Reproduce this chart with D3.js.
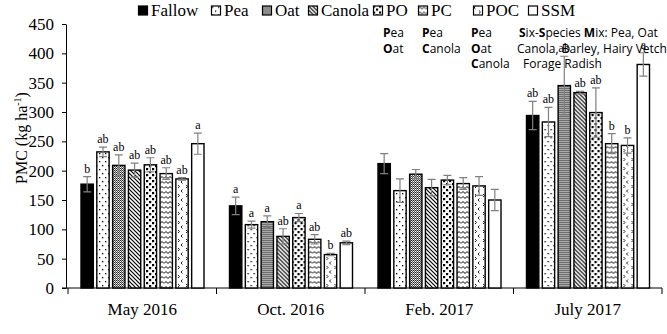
<!DOCTYPE html>
<html>
<head>
<meta charset="utf-8">
<script src="https://cdn.jsdelivr.net/npm/d3@7.9.0/dist/d3.min.js"></script>
<style>
  body { margin: 0; background: #fff; }
  svg { display: block; }
  .tick text { font-family: "Liberation Serif", "Times New Roman", serif; }
</style>
</head>
<body>
<svg id="chart" width="667" height="334"></svg>
<script>
// data
const periods = ['May 2016', 'Oct. 2016', 'Feb. 2017', 'July 2017'];
const treatments = ['Fallow', 'Pea', 'Oat', 'Canola', 'PO', 'PC', 'POC', 'SSM'];

const pmc = [
  [177, 232, 209, 201, 210, 195, 186, 246],
  [140, 108, 113, 88, 120, 83, 57, 77],
  [212, 166, 194, 171, 184, 178, 174, 150],
  [294, 283, 345, 333, 299, 246, 243, 381],
];
const pmcErr = [
  [13, 8, 18, 12, 12, 10, 2, 18],
  [15, 6, 10, 13, 7, 8, 2, 3],
  [17, 20, 8, 14, 8, 10, 16, 18],
  [24, 25, 50, 2, 42, 17, 13, 20],
];
const letters = [
  ['b', 'ab', 'ab', 'ab', 'ab', 'ab', 'ab', 'a'],
  ['a', 'a', 'a', 'ab', 'a', 'ab', 'b', 'ab'],
  ['', '', '', '', '', '', '', ''],
  ['ab', 'ab', 'ab', 'ab', 'ab', 'b', 'b', 'a'],
];
const yTicks = [0, 50, 100, 150, 200, 250, 300, 350, 400, 450];

const svg = d3.select('#chart');
const serif = '"Liberation Serif", "Times New Roman", serif';
const sans = '"Open Sans", "Liberation Sans", sans-serif';

// ── 填充图案 ──────────────────────────────────────────────
const defs = svg.append('defs');

function pat(id, w, h, draw) {
  const p = defs.append('pattern')
    .attr('id', id).attr('patternUnits', 'userSpaceOnUse')
    .attr('width', w).attr('height', h);
  p.append('rect').attr('width', w).attr('height', h).attr('fill', '#fff');
  draw(p);
}

// Pea: sparse dots
pat('p-pea', 6, 8, (p) => {
  p.append('rect').attr('x', 1).attr('y', 1).attr('width', 1.3).attr('height', 1.3).attr('fill', '#000');
  p.append('rect').attr('x', 4).attr('y', 5).attr('width', 1.3).attr('height', 1.3).attr('fill', '#000');
});
// Oat: fine grey checker
pat('p-oat', 2, 2, (p) => {
  p.append('rect').attr('width', 1).attr('height', 1).attr('fill', '#222');
  p.append('rect').attr('x', 1).attr('y', 1).attr('width', 1).attr('height', 1).attr('fill', '#555');
  p.append('rect').attr('x', 1).attr('y', 0).attr('width', 1).attr('height', 1).attr('fill', '#bbb');
});
// Canola: diagonal lines
pat('p-canola', 4, 4, (p) => {
  p.append('path').attr('d', 'M-1,-1L5,5M-1,3L1,5M3,-1L5,1')
    .attr('stroke', '#000').attr('stroke-width', 1.2);
});
// PO: confetti
pat('p-po', 6, 6, (p) => {
  p.append('rect').attr('x', 0).attr('y', 0).attr('width', 2.2).attr('height', 2.2).attr('fill', '#000');
  p.append('rect').attr('x', 3).attr('y', 3).attr('width', 2.2).attr('height', 2.2).attr('fill', '#000');
});
// PC: zigzag
pat('p-pc', 8, 5, (p) => {
  p.append('path').attr('d', 'M0,3.5L2,1.5L4,3.5L6,1.5L8,3.5')
    .attr('fill', 'none').attr('stroke', '#000').attr('stroke-width', 1);
});
// POC: small chevrons
pat('p-poc', 8, 9, (p) => {
  p.append('path').attr('d', 'M2.5,0.5L1,2L2.5,3.5M6,5L7.5,6.5L6,8')
    .attr('fill', 'none').attr('stroke', '#000').attr('stroke-width', 0.9);
});

const fills = ['#000', 'url(#p-pea)', 'url(#p-oat)', 'url(#p-canola)',
  'url(#p-po)', 'url(#p-pc)', 'url(#p-poc)', '#fff'];

// ── 比例尺 ────────────────────────────────────────────────
const x0 = d3.scaleBand().domain(periods).range([68, 662]);
const x1 = d3.scaleBand().domain(treatments).range([13, 136]).paddingInner(0.22);
const y = d3.scaleLinear().domain([0, 450]).range([288, 24]);

// 坐标轴
const yAxis = svg.append('g').attr('transform', 'translate(66,0)')
  .call(d3.axisLeft(y).tickValues(yTicks).tickSize(4).tickPadding(8).tickSizeOuter(0));
yAxis.selectAll('text').attr('font-size', 17).attr('fill', '#000');
yAxis.select('.domain').attr('stroke', '#000');

const xAxis = svg.append('g').attr('transform', 'translate(0,288)');
xAxis.append('line').attr('x1', 62).attr('x2', 662).attr('stroke', '#000');
xAxis.selectAll('line.sep')
  .data([...periods.map((d) => x0(d)), x0.range()[1]])
  .join('line').attr('class', 'sep')
  .attr('x1', (d) => d).attr('x2', (d) => d).attr('y1', 0).attr('y2', 6)
  .attr('stroke', '#000');
xAxis.selectAll('text')
  .data(periods).join('text')
  .attr('x', (d) => x0(d) + x0.bandwidth() / 2).attr('y', 27)
  .attr('text-anchor', 'middle').attr('font-family', serif).attr('font-size', 17)
  .text((d) => d);

// y 轴标题
const yt = svg.append('text')
  .attr('transform', 'translate(27,138) rotate(-90)')
  .attr('text-anchor', 'middle').attr('font-family', serif).attr('font-size', 16);
yt.append('tspan').text('PMC (kg ha');
yt.append('tspan').attr('font-size', 10).attr('dy', -6).text('-1');
yt.append('tspan').attr('dy', 6).text(')');

// ── 柱子 ──────────────────────────────────────────────────
const groups = svg.selectAll('g.grp')
  .data(periods).join('g').attr('class', 'grp')
  .attr('transform', (d) => `translate(${x0(d)},0)`);

groups.each(function (p, gi) {
  const g = d3.select(this);
  const rows = treatments.map((t, i) => ({
    t, i, v: pmc[gi][i], e: pmcErr[gi][i], l: letters[gi][i],
  }));

  g.selectAll('rect')
    .data(rows).join('rect')
    .attr('x', (d) => x1(d.t)).attr('width', x1.bandwidth())
    .attr('y', (d) => y(d.v)).attr('height', (d) => y(0) - y(d.v))
    .attr('fill', (d) => fills[d.i])
    .attr('stroke', '#000').attr('stroke-width', 1.4);

  const cx = (d) => x1(d.t) + x1.bandwidth() / 2;
  g.selectAll('path.err')
    .data(rows).join('path').attr('class', 'err')
    .attr('d', (d) => {
      const a = y(d.v + d.e), b = y(d.v - d.e), c = cx(d);
      return `M${c - 4},${a}H${c + 4}M${c},${a}V${b}M${c - 4},${b}H${c + 4}`;
    })
    .attr('fill', 'none').attr('stroke', '#808080').attr('stroke-width', 1.2);

  g.selectAll('text.let')
    .data(rows.filter((d) => d.l)).join('text').attr('class', 'let')
    .attr('x', cx).attr('y', (d) => y(d.v + d.e) - 4)
    .attr('text-anchor', 'middle').attr('font-family', serif).attr('font-size', 12)
    .text((d) => d.l);
});

// ── 注释 ──────────────────────────────────────────────────
const noteSize = 12;
const notes = [
  { x: 383, lines: [['P', 'ea'], ['O', 'at']] },
  { x: 422, lines: [['P', 'ea'], ['C', 'anola']] },
  { x: 471, lines: [['P', 'ea'], ['O', 'at'], ['C', 'anola']] },
];
notes.forEach((n) => {
  n.lines.forEach(([b, r], k) => {
    const t = svg.append('text').attr('x', n.x).attr('y', 37 + k * 15.5)
      .attr('font-family', sans).attr('font-size', noteSize);
    t.append('tspan').attr('font-weight', 'bold').text(b);
    t.append('tspan').text(r);
  });
});
const ssm = svg.append('text').attr('x', 519).attr('y', 37)
  .attr('font-family', sans).attr('font-size', noteSize);
ssm.append('tspan').attr('font-weight', 'bold').text('S');
ssm.append('tspan').text('ix-');
ssm.append('tspan').attr('font-weight', 'bold').text('S');
ssm.append('tspan').text('pecies ');
ssm.append('tspan').attr('font-weight', 'bold').text('M');
ssm.append('tspan').text('ix: Pea, Oat');
svg.append('text').attr('x', 517).attr('y', 52.5)
  .attr('font-family', sans).attr('font-size', noteSize)
  .text('Canola, Barley, Hairy Vetch');
svg.append('text').attr('x', 523).attr('y', 68)
  .attr('font-family', sans).attr('font-size', noteSize)
  .text('Forage Radish');

// ── 图例 ──────────────────────────────────────────────────
const legendX = [138, 211, 262, 308, 373, 418, 473, 528];
const lg = svg.selectAll('g.leg')
  .data(treatments).join('g').attr('class', 'leg')
  .attr('transform', (d, i) => `translate(${legendX[i]},5.5)`);
lg.append('rect').attr('x', 0.5).attr('y', 0.5).attr('width', 9).attr('height', 9)
  .attr('fill', (d, i) => fills[i]).attr('stroke', '#000').attr('stroke-width', 1.2);
lg.append('text').attr('x', 13).attr('y', 10.5)
  .attr('font-family', serif).attr('font-size', 17)
  .text((d) => d);
</script>
</body>
</html>
